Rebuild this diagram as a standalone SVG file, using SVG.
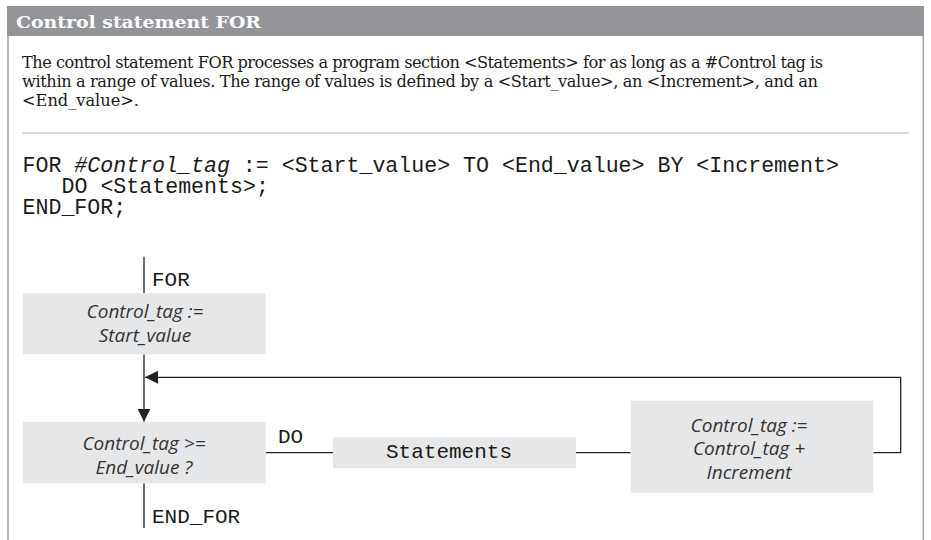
<svg xmlns="http://www.w3.org/2000/svg" width="931" height="540" viewBox="0 0 931 540">
<style>
.frame{stroke:#a2a3a5;stroke-width:1.5;fill:none}
.sep{stroke:#b4b5b7;stroke-width:1;fill:none}
.hdr{font-family:"DejaVu Serif","Liberation Serif",serif;font-weight:bold;font-size:17.5px;fill:#ffffff}
.para{font-family:"DejaVu Serif","Liberation Serif",serif;font-size:16.2px;fill:#1a1a1a}
.code{font-family:"Liberation Mono","Courier New",monospace;font-size:21.6px;fill:#1a1a1a}
.lbl{font-family:"Liberation Mono","Courier New",monospace;font-size:21px;fill:#1a1a1a}
.box{fill:#e6e7e8}
.it{font-family:"Open Sans","Noto Sans",sans-serif;font-style:italic;font-size:19px;fill:#333333;text-anchor:middle}
.con{stroke:#222222;stroke-width:1.3;fill:none}
</style>
<defs>
<marker id="ah" markerUnits="userSpaceOnUse" markerWidth="13" markerHeight="13" refX="13" refY="6.5" orient="auto">
<path d="M0,0 L13,6.5 L0,13 z" fill="#222222"/>
</marker>
</defs>
<rect x="0" y="0" width="931" height="540" fill="#ffffff"/>
<g id="frame">
<rect x="7" y="6" width="917" height="30" fill="#939598"/>
<text class="hdr" x="16" y="28" textLength="245" lengthAdjust="spacingAndGlyphs">Control statement FOR</text>
<line class="frame" x1="8" y1="36" x2="8" y2="540"/>
<line class="frame" x1="923.3" y1="36" x2="923.3" y2="540"/>
<text class="para" x="22" y="68" textLength="801">The control statement FOR processes a program section &lt;Statements&gt; for as long as a #Control tag is</text>
<text class="para" x="22" y="87" textLength="796">within a range of values. The range of values is defined by a &lt;Start_value&gt;, an &lt;Increment&gt;, and an</text>
<text class="para" x="22" y="106" textLength="117">&lt;End_value&gt;.</text>
<line class="sep" x1="22" y1="133" x2="909" y2="133"/>
<text class="code" x="22.5" y="172">FOR <tspan font-style="italic">#Control_tag</tspan> := &lt;Start_value&gt; TO &lt;End_value&gt; BY &lt;Increment&gt;</text>
<text class="code" x="61.5" y="193">DO &lt;Statements&gt;;</text>
<text class="code" x="22.5" y="214">END_FOR;</text>
</g>
<g id="connectors">
<line class="con" x1="144" y1="256.7" x2="144" y2="293.3"/>
<line class="con" x1="144" y1="354.3" x2="144" y2="421.7" marker-end="url(#ah)"/>
<line class="con" x1="265.7" y1="452.7" x2="333" y2="452.7"/>
<line class="con" x1="576" y1="452.7" x2="630.7" y2="452.7"/>
<path class="con" d="M873.3,452.7 H900.7 V377.3 H145" marker-end="url(#ah)"/>
<line class="con" x1="144" y1="483.3" x2="144" y2="528"/>
<text class="lbl" x="152" y="286">FOR</text>
<text class="lbl" x="278" y="443">DO</text>
<text class="lbl" x="152" y="523.3">END_FOR</text>
</g>
<g id="start">
<rect class="box" x="22.7" y="293.3" width="243" height="61"/>
<text class="it" x="145" y="318">Control_tag :=</text>
<text class="it" x="145" y="342.3">Start_value</text>
</g>
<g id="condition">
<rect class="box" x="22.7" y="421.7" width="243" height="61.6"/>
<text class="it" x="144" y="450">Control_tag &gt;=</text>
<text class="it" x="144" y="473.5">End_value ?</text>
</g>
<g id="statements">
<rect class="box" x="333" y="437.3" width="243" height="31"/>
<text class="lbl" x="449" y="458.3" text-anchor="middle">Statements</text>
</g>
<g id="increment">
<rect class="box" x="630.7" y="400.7" width="242.6" height="92"/>
<text class="it" x="749" y="431.7">Control_tag :=</text>
<text class="it" x="749" y="455.3">Control_tag +</text>
<text class="it" x="749" y="479.3">Increment</text>
</g>
</svg>
